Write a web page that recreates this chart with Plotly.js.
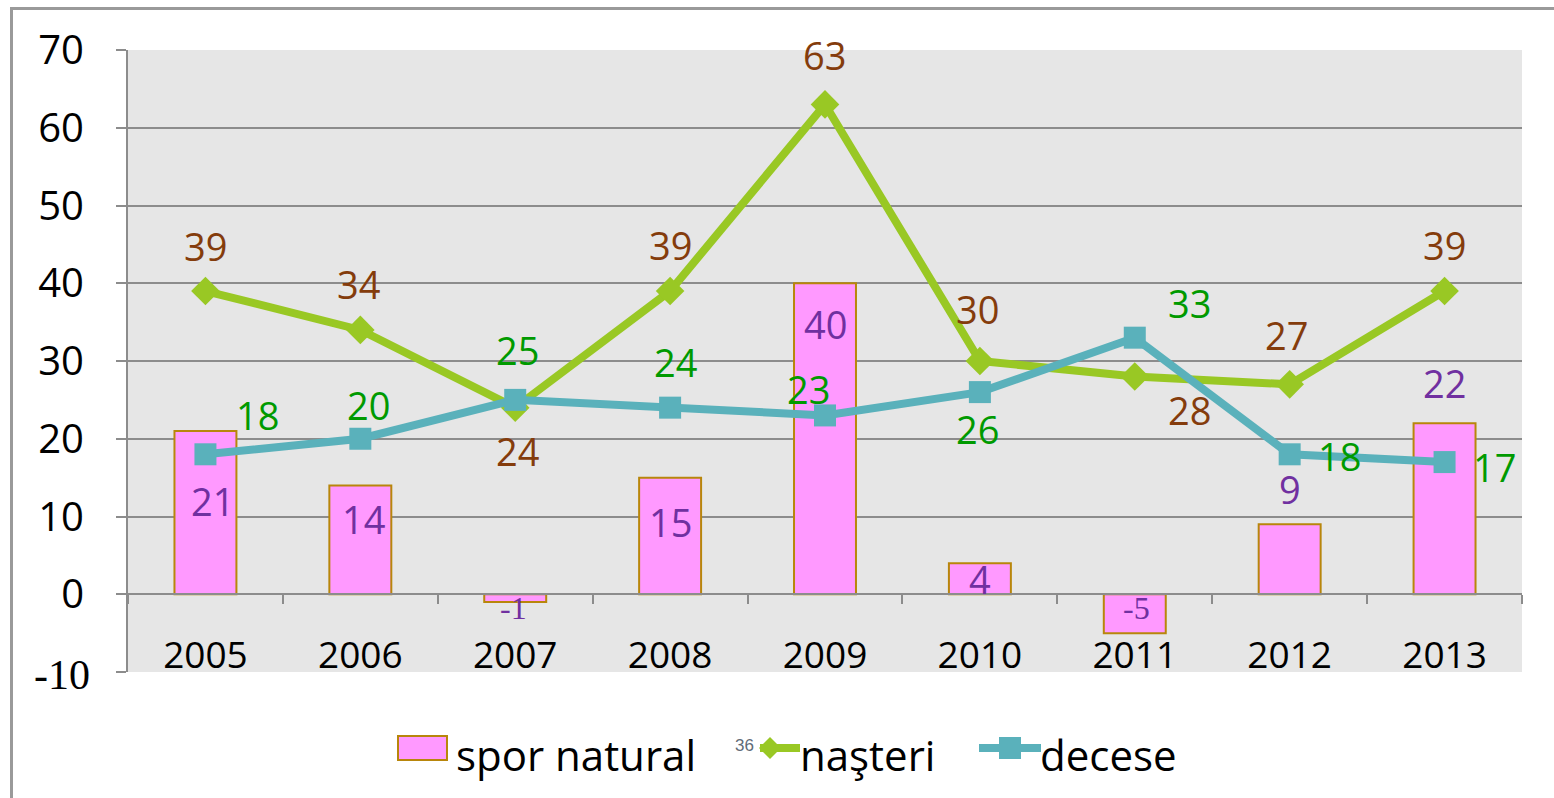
<!DOCTYPE html>
<html>
<head>
<meta charset="utf-8">
<script src="https://cdn.plot.ly/plotly-3.0.1.min.js"></script>
<style>
  html, body { margin:0; padding:0; background:#ffffff; overflow:hidden; }
  #frame { position:absolute; left:10px; top:7px; width:2000px; height:2000px;
           border-left:3px solid #9a9a9a; border-top:3px solid #9a9a9a; }
  #chart { position:absolute; left:0; top:0; width:1554px; height:798px; }
</style>
</head>
<body>
<div id="frame"></div>
<div id="chart"></div>
<script>
// ---- data ----
const years = ['2005','2006','2007','2008','2009','2010','2011','2012','2013'];
const sporNatural = [21, 14, -1, 15, 40, 4, -5, 9, 22];
const nasteri = [39, 34, 24, 39, 63, 30, 28, 27, 39];
const decese = [18, 20, 25, 24, 23, 26, 33, 18, 17];
const yTickVals = [-10, 0, 10, 20, 30, 40, 50, 60, 70];
const yTickText = ['', '0', '10', '20', '30', '40', '50', '60', '70'];
const yMinLabel = '-10';
const legendNames = ['spor natural', 'naşteri', 'decese'];
const strayLabel = '36';

// ---- label offsets (pixels: dx, dy up) ----
const nasteriOff = [[0,45],[-2,46],[2,-43],[0,46],[-1,49],[-2,52],[55,-33],[-3,49],[0,46]];
const deceseOff  = [[52,39],[8,34],[2,50],[5,46],[-17,26],[-2,-37],[55,35],[50,-2],[50,-5]];
const sporOff    = [[7,-70],[3,-34],[-2,-6],[0,-44],[0,-41],[0,-16],[2,25],[0,35],[0,40]];

const FONT = 'Open Sans, Lato, sans-serif';
const SERIF = 'Liberation Serif, Times New Roman, serif';
const BROWN = '#843c0c', GREEN_T = '#009a00', PURPLE = '#7030a0';
const GRID = '#8c8c8c';

const traces = [
  { type:'bar', x:years, y:sporNatural, name:legendNames[0], width:0.4,
    marker:{color:'#ff99ff', line:{color:'#b8860b', width:2}}, showlegend:false },
  { type:'scatter', mode:'lines+markers', x:years, y:nasteri, name:legendNames[1],
    line:{color:'#99c824', width:8}, marker:{symbol:'diamond', size:22, color:'#99c824'}, showlegend:false },
  { type:'scatter', mode:'lines+markers', x:years, y:decese, name:legendNames[2],
    line:{color:'#5ab1bb', width:8}, marker:{symbol:'square', size:22, color:'#5ab1bb'}, showlegend:false }
];

const annotations = [];
function addLabels(vals, offs, color, serifNeg) {
  vals.forEach((v, i) => {
    const neg = v < 0 && serifNeg;
    annotations.push({ xref:'x', yref:'y', x: i, y: v, text: String(v), showarrow:false,
      xanchor:'center', yanchor:'middle',
      xshift: offs[i][0], yshift: offs[i][1],
      font:{ family: neg ? SERIF : FONT, size: neg ? 32 : 38, color: color } });
  });
}
addLabels(nasteri, nasteriOff, BROWN, false);
addLabels(decese, deceseOff, GREEN_T, false);
addLabels(sporNatural, sporOff, PURPLE, true);

// ---- custom legend (pixel -> paper helpers) ----
const L = 128, T = 50, W = 1394, H = 622;
const px = p => (p - L) / W;
const py = p => (T + H - p) / H;

const shapes = [
  { type:'rect', xref:'paper', yref:'paper', x0:px(398), x1:px(447), y0:py(736), y1:py(760),
    fillcolor:'#ff99ff', line:{color:'#b8860b', width:2} },
  { type:'line', xref:'paper', yref:'paper', x0:px(760), x1:px(800), y0:py(748), y1:py(748),
    line:{color:'#99c824', width:8} },
  { type:'path', xref:'paper', yref:'paper',
    path:`M ${px(770)} ${py(737)} L ${px(781)} ${py(748)} L ${px(770)} ${py(759)} L ${px(759)} ${py(748)} Z`,
    fillcolor:'#99c824', line:{width:0} },
  { type:'line', xref:'paper', yref:'paper', x0:px(979), x1:px(1041), y0:py(748), y1:py(748),
    line:{color:'#5ab1bb', width:8} },
  { type:'rect', xref:'paper', yref:'paper', x0:px(999), x1:px(1021), y0:py(737), y1:py(759),
    fillcolor:'#5ab1bb', line:{width:0} }
];
annotations.push(
  { xref:'paper', yref:'paper', x:px(454), y:py(754), xanchor:'left', yanchor:'middle', showarrow:false,
    text:legendNames[0], font:{family:FONT, size:42, color:'#000'} },
  { xref:'paper', yref:'paper', x:px(798), y:py(754), xanchor:'left', yanchor:'middle', showarrow:false,
    text:legendNames[1], font:{family:FONT, size:42, color:'#000'} },
  { xref:'paper', yref:'paper', x:px(1038), y:py(754), xanchor:'left', yanchor:'middle', showarrow:false,
    text:legendNames[2], font:{family:FONT, size:42, color:'#000'} },
  { xref:'paper', yref:'paper', x:px(744), y:py(745), xanchor:'center', yanchor:'middle', showarrow:false,
    text:strayLabel, font:{family:'Liberation Sans, Arial, sans-serif', size:17, color:'#5f6b78'} },
  { xref:'paper', yref:'y', x:px(92), y:-10, xanchor:'right', yanchor:'middle', yshift:-3, showarrow:false,
    text:yMinLabel, font:{family:SERIF, size:42, color:'#000'} }
);

const layout = {
  width:1554, height:798,
  margin:{l:L, r:1554 - L - W, t:T, b:798 - T - H},
  paper_bgcolor:'rgba(0,0,0,0)', plot_bgcolor:'#e6e6e6',
  showlegend:false,
  font:{family:FONT, color:'#000'},
  xaxis:{ type:'category', range:[-0.5, 8.5], anchor:'free', position:0.125,
    showline:true, linecolor:GRID, linewidth:2, showgrid:false, zeroline:false,
    ticks:'outside', tickson:'boundaries', ticklen:9, tickwidth:2, tickcolor:GRID,
    tickfont:{family:FONT, size:37, color:'#000'}, ticklabelstandoff:28 },
  yaxis:{ range:[-10, 70], tickvals:yTickVals, ticktext:yTickText,
    showline:true, linecolor:GRID, linewidth:2, showgrid:true, gridcolor:GRID, gridwidth:2, zeroline:false,
    ticks:'outside', ticklen:10, tickwidth:2, tickcolor:GRID,
    tickfont:{family:FONT, size:40, color:'#000'}, ticklabelstandoff:24 },
  shapes: shapes,
  annotations: annotations,
  bargap: 0.6
};

Plotly.newPlot('chart', traces, layout, {displayModeBar:false, staticPlot:true});
</script>
</body>
</html>
